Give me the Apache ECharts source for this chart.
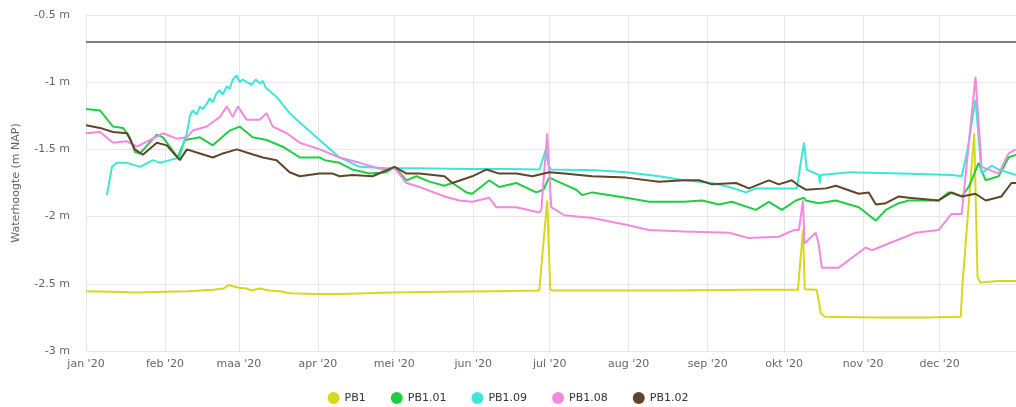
<!DOCTYPE html>
<html>
<head>
<meta charset="utf-8">
<script src="https://cdn.jsdelivr.net/npm/echarts@6/dist/echarts.min.js"></script>
<style>
html,body{margin:0;padding:0;background:#fff;}
#chart{width:1016px;height:407px;}
</style>
</head>
<body>
<div id="chart"></div>
<script>
// ---- data (day of year 2020, value in m NAP) ----
var seriesNames = ['PB1', 'PB1.01', 'PB1.09', 'PB1.08', 'PB1.02'];
var monthLabels = ['jan', 'feb', 'maa', 'apr', 'mei', 'jun', 'jul', 'aug', 'sep', 'okt', 'nov', 'dec'];
var yearSuffix = " '20";
var referenceLevel = -0.7;

var pb1 = [[0,-2.555],[10,-2.56],[20,-2.565],[30,-2.56],[40,-2.555],[50,-2.545],[54,-2.535],[56,-2.51],[58,-2.52],[60,-2.53],[63,-2.535],[65,-2.55],[68,-2.535],[72,-2.55],[76,-2.555],[80,-2.57],[90,-2.575],[100,-2.575],[110,-2.57],[120,-2.565],[140,-2.56],[160,-2.555],[177.9,-2.55],[181,-1.88],[182.2,-2.54],[183,-2.55],[200,-2.55],[230,-2.55],[260,-2.545],[279.4,-2.545],[281.4,-2.1],[282.1,-2.54],[286.8,-2.545],[288.4,-2.72],[290,-2.745],[310,-2.75],[330,-2.75],[343.3,-2.745],[344,-2.5],[348.6,-1.38],[349.9,-2.45],[351,-2.49],[358,-2.48],[365,-2.48]];

var pb101 = [[0,-1.2],[5.5,-1.21],[10.6,-1.33],[14.5,-1.34],[17.2,-1.41],[19.2,-1.52],[21.2,-1.53],[27.8,-1.39],[30.2,-1.41],[36,-1.56],[38.8,-1.43],[44.7,-1.41],[49.8,-1.47],[56.4,-1.36],[60.3,-1.33],[65.4,-1.41],[70.9,-1.43],[77.2,-1.48],[83.9,-1.56],[91.7,-1.56],[93.7,-1.58],[99.5,-1.6],[104.6,-1.65],[111.3,-1.68],[117.9,-1.67],[121.1,-1.63],[125.8,-1.73],[129.7,-1.7],[134.8,-1.74],[140.7,-1.77],[143.8,-1.75],[149.3,-1.82],[151.6,-1.83],[158.3,-1.73],[162.2,-1.78],[168.9,-1.75],[176.7,-1.82],[179.5,-1.8],[181.8,-1.71],[187.7,-1.76],[192.4,-1.8],[194.7,-1.84],[198.7,-1.82],[212,-1.86],[221,-1.89],[234.7,-1.89],[241.8,-1.88],[248.4,-1.91],[253.5,-1.89],[262.9,-1.95],[268,-1.89],[273.1,-1.95],[278.6,-1.88],[281.8,-1.86],[282.5,-1.88],[287.6,-1.9],[294.3,-1.88],[303.3,-1.93],[310,-2.03],[313.9,-1.95],[319,-1.9],[322.9,-1.88],[330,-1.88],[334.6,-1.88],[338.6,-1.82],[343.7,-1.85],[346.4,-1.78],[347.6,-1.73],[350.3,-1.6],[353.1,-1.73],[358.2,-1.7],[362.1,-1.56],[365,-1.54]];

var pb109 = [[8.2,-1.84],[10.2,-1.63],[12.1,-1.6],[16.1,-1.6],[21.2,-1.63],[26.3,-1.58],[29,-1.6],[32.9,-1.58],[36.8,-1.56],[38.8,-1.42],[39.6,-1.38],[40.8,-1.25],[41.9,-1.21],[43.5,-1.24],[44.7,-1.18],[45.8,-1.2],[47.4,-1.16],[48.6,-1.12],[49.8,-1.15],[51.3,-1.08],[52.5,-1.06],[53.7,-1.09],[55.3,-1.03],[56.4,-1.05],[57.6,-0.98],[59.2,-0.95],[60.3,-1.0],[61.5,-0.98],[63.1,-1.0],[65,-1.02],[66.6,-0.98],[68.2,-1.01],[69.4,-0.99],[70.5,-1.04],[74.8,-1.11],[79.9,-1.23],[83.9,-1.3],[91.7,-1.43],[99.5,-1.56],[107.4,-1.63],[117.9,-1.64],[130,-1.64],[150,-1.645],[165,-1.645],[178,-1.65],[180.5,-1.5],[181.5,-1.62],[182.5,-1.65],[200,-1.655],[212,-1.67],[225,-1.7],[234.7,-1.73],[245.7,-1.75],[252.4,-1.78],[259,-1.82],[262.9,-1.79],[271.9,-1.79],[279,-1.79],[280.5,-1.6],[281.8,-1.45],[282.9,-1.65],[287.6,-1.69],[288,-1.75],[288.4,-1.69],[300,-1.67],[320,-1.68],[340,-1.69],[343.7,-1.7],[346,-1.5],[349.1,-1.13],[351.5,-1.68],[355.5,-1.62],[358.2,-1.65],[365,-1.69]];

var pb108 = [[0,-1.38],[5.5,-1.37],[10.6,-1.45],[16.1,-1.44],[20,-1.48],[25.1,-1.43],[30.2,-1.38],[35.7,-1.42],[39.6,-1.41],[41.9,-1.36],[47.4,-1.33],[52.5,-1.26],[55.3,-1.18],[57.6,-1.26],[59.6,-1.18],[63.1,-1.28],[68.2,-1.28],[70.9,-1.23],[73.3,-1.33],[78.8,-1.38],[83.9,-1.45],[91.7,-1.5],[99.5,-1.56],[107.4,-1.6],[116.4,-1.65],[121.1,-1.64],[125.8,-1.75],[130.9,-1.78],[140.7,-1.85],[146.6,-1.88],[151.6,-1.89],[158.3,-1.86],[161,-1.93],[168.9,-1.93],[177.9,-1.97],[178.7,-1.95],[181,-1.38],[182.6,-1.93],[187.7,-1.99],[198.7,-2.01],[212,-2.06],[221,-2.1],[234.7,-2.11],[252.4,-2.12],[260.2,-2.16],[271.9,-2.15],[277.8,-2.1],[279.8,-2.1],[281.4,-1.88],[282,-2.2],[286.4,-2.12],[287.5,-2.2],[288.8,-2.38],[295.5,-2.38],[306,-2.23],[308.4,-2.25],[319,-2.17],[325.6,-2.12],[334.6,-2.1],[339.7,-1.98],[343.7,-1.98],[349.1,-0.96],[351.5,-1.63],[358.2,-1.68],[362.1,-1.53],[365,-1.5]];

var pb102 = [[0,-1.32],[5.5,-1.34],[10.6,-1.37],[16.1,-1.38],[19.2,-1.5],[22.3,-1.54],[27.8,-1.45],[31.7,-1.47],[36.8,-1.58],[39.6,-1.5],[44.7,-1.53],[49.8,-1.56],[53.7,-1.53],[59.2,-1.5],[64.3,-1.53],[69.4,-1.56],[74.8,-1.58],[79.9,-1.67],[83.9,-1.7],[91.7,-1.68],[96.8,-1.68],[99.5,-1.7],[104.6,-1.69],[112.5,-1.7],[121.1,-1.63],[125.8,-1.68],[130.9,-1.68],[140.7,-1.7],[143.8,-1.75],[151.6,-1.7],[157.1,-1.65],[162.2,-1.68],[168.9,-1.68],[175.2,-1.7],[181.8,-1.67],[187.7,-1.68],[198.7,-1.7],[212,-1.71],[224.9,-1.74],[234.7,-1.73],[240.6,-1.73],[245.7,-1.76],[255.1,-1.75],[260.2,-1.79],[268,-1.73],[271.9,-1.76],[277,-1.73],[279.8,-1.77],[282.5,-1.8],[290.4,-1.79],[294.3,-1.77],[303.3,-1.83],[307.2,-1.82],[310,-1.91],[313.9,-1.9],[319,-1.85],[322.9,-1.86],[334.6,-1.88],[339.7,-1.82],[343.7,-1.85],[349.1,-1.83],[353.1,-1.88],[359.3,-1.85],[363.2,-1.75],[365,-1.75]];

var seriesColors = ['#d6d81e', '#22cc44', '#3de6d6', '#f08ae0', '#614528'];

// ---- build ----
var start = new Date(2020, 0, 1).getTime();
var DAY = 86400000;
function toTime(arr) { return arr.map(function (p) { return [start + p[0] * DAY, p[1]]; }); }
var allData = [pb1, pb101, pb109, pb108, pb102];

var series = allData.map(function (d, i) {
  var s = {
    name: seriesNames[i],
    type: 'line',
    data: toTime(d),
    showSymbol: false,
    symbol: 'circle',
    lineStyle: { width: 2, color: seriesColors[i] },
    itemStyle: { color: seriesColors[i] },
    z: 2 + i
  };
  if (i === 0) {
    s.markLine = {
      silent: true,
      symbol: 'none',
      label: { show: false },
      lineStyle: { color: '#808080', width: 2, type: 'solid' },
      data: [{ yAxis: referenceLevel }]
    };
  }
  return s;
});

var chart = echarts.init(document.getElementById('chart'), null, { renderer: 'canvas' });
chart.setOption({
  animation: false,
  backgroundColor: '#ffffff',
  textStyle: { fontFamily: 'DejaVu Sans' },
  grid: { left: 86, right: 0, top: 15, bottom: 56, containLabel: false },
  legend: {
    data: seriesNames,
    left: 'center',
    top: 387,
    icon: 'circle',
    itemWidth: 12,
    itemHeight: 12,
    itemGap: 25,
    textStyle: { color: '#333333', fontSize: 11, fontFamily: 'DejaVu Sans' }
  },
  xAxis: {
    type: 'time',
    min: start,
    max: new Date(2020, 11, 31).getTime(),
    splitNumber: 12,
    minInterval: 28 * DAY,
    maxInterval: 31 * DAY,
    axisLine: { show: true, lineStyle: { color: '#e6e6e6', width: 1 } },
    axisTick: { show: false },
    splitLine: { show: true, lineStyle: { color: '#e6e6e6', width: 1 } },
    axisLabel: {
      color: '#666666',
      fontSize: 11,
      margin: 8,
      hideOverlap: false,
      formatter: function (v) {
        var d = new Date(v);
        return monthLabels[d.getMonth()] + yearSuffix;
      }
    }
  },
  yAxis: {
    type: 'value',
    min: -3,
    max: -0.5,
    interval: 0.5,
    name: 'Waterhoogte (m NAP)',
    nameLocation: 'middle',
    nameGap: 64,
    nameRotate: 90,
    nameTextStyle: { color: '#666666', fontSize: 11 },
    axisLine: { show: false },
    axisTick: { show: false },
    splitLine: { show: true, lineStyle: { color: '#e6e6e6', width: 1 } },
    axisLabel: {
      color: '#666666',
      fontSize: 11,
      margin: 16,
      formatter: function (v) { return v + ' m'; }
    }
  },
  series: series
});
</script>
</body>
</html>
